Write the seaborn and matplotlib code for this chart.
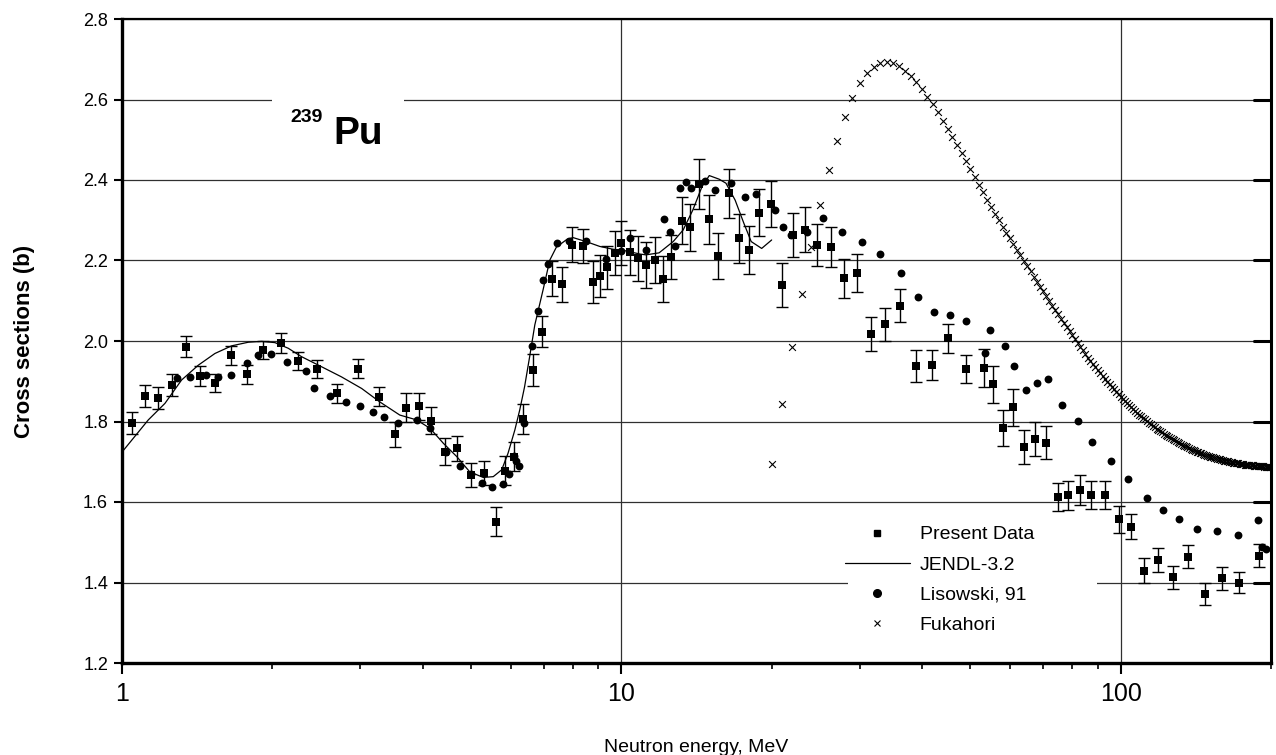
import matplotlib
matplotlib.use("Agg")
import matplotlib.pyplot as plt
from matplotlib.lines import Line2D
from matplotlib.patches import Rectangle
from matplotlib.ticker import LogLocator, NullFormatter, FixedLocator, FixedFormatter
import seaborn as sns
import pandas as pd

# ---------------- data ----------------
present_E = [1.048, 1.112, 1.182, 1.257, 1.341, 1.433, 1.535, 1.650, 1.776, 1.918,
             2.078, 2.255, 2.458, 2.70, 2.97, 3.27, 3.52, 3.71, 3.93, 4.16,
             4.43, 4.69, 4.99, 5.32, 5.61, 5.85, 6.10, 6.36, 6.64, 6.94,
             7.26, 7.62, 7.98, 8.38, 8.76, 9.07, 9.37, 9.73, 10.0, 10.4,
             10.8, 11.2, 11.7, 12.1, 12.6, 13.2, 13.7, 14.3, 14.95, 15.6,
             16.4, 17.2, 18.0, 18.9, 19.9, 21.0, 22.1, 23.3, 24.6, 26.3,
             27.9, 29.6, 31.6, 33.7, 36.2, 38.9, 41.9, 45.2, 49.0, 53.3,
             55.6, 58.2, 60.9, 64.1, 67.3, 71.0, 74.9, 78.3, 83.0, 87.3,
             92.9, 99.0, 104.7, 111.3, 118.9, 127.4, 136.5, 147.2, 159.3, 172.8,
             189.4]
present_y = [1.796, 1.863, 1.858, 1.890, 1.986, 1.913, 1.896, 1.964, 1.917, 1.978,
             1.995, 1.950, 1.930, 1.870, 1.931, 1.862, 1.768, 1.834, 1.838, 1.802,
             1.725, 1.733, 1.667, 1.673, 1.551, 1.678, 1.712, 1.806, 1.928, 2.023,
             2.155, 2.141, 2.239, 2.236, 2.147, 2.162, 2.183, 2.218, 2.243, 2.221,
             2.205, 2.188, 2.202, 2.154, 2.209, 2.299, 2.282, 2.390, 2.302, 2.211,
             2.367, 2.255, 2.226, 2.319, 2.340, 2.139, 2.263, 2.277, 2.239, 2.233,
             2.156, 2.168, 2.017, 2.041, 2.088, 1.938, 1.940, 2.007, 1.930, 1.932,
             1.892, 1.783, 1.835, 1.737, 1.756, 1.747, 1.613, 1.617, 1.630, 1.617,
             1.617, 1.557, 1.539, 1.429, 1.456, 1.413, 1.464, 1.371, 1.410, 1.400,
             1.467]
present_err = [0.027, 0.028, 0.027, 0.027, 0.026, 0.025, 0.023, 0.023, 0.023, 0.022,
               0.024, 0.023, 0.023, 0.023, 0.024, 0.024, 0.031, 0.036, 0.034, 0.033,
               0.033, 0.032, 0.030, 0.030, 0.036, 0.037, 0.036, 0.038, 0.039, 0.039,
               0.043, 0.043, 0.043, 0.043, 0.052, 0.052, 0.053, 0.055, 0.055, 0.056,
               0.056, 0.057, 0.057, 0.056, 0.054, 0.059, 0.059, 0.061, 0.060, 0.058,
               0.061, 0.060, 0.059, 0.059, 0.058, 0.055, 0.055, 0.055, 0.052, 0.050,
               0.048, 0.047, 0.043, 0.042, 0.042, 0.039, 0.037, 0.036, 0.035, 0.047,
               0.047, 0.045, 0.045, 0.042, 0.042, 0.041, 0.035, 0.036, 0.037, 0.035,
               0.035, 0.034, 0.032, 0.031, 0.030, 0.029, 0.029, 0.027, 0.029, 0.027,
               0.028]

lisowski_E = [1.287, 1.370, 1.470, 1.555, 1.650, 1.781, 1.869, 1.987, 2.141, 2.335,
              2.427, 2.614, 2.815, 2.995, 3.175, 3.34, 3.57, 3.90, 4.14, 4.46,
              4.75, 5.00, 5.25, 5.50, 5.80, 5.95, 6.10, 6.16, 6.24, 6.39,
              6.63, 6.81, 6.97, 7.14, 7.42, 7.87, 8.50, 9.30, 10.0, 10.4,
              11.2, 12.2, 12.5, 12.8, 13.1, 13.5, 13.8, 14.7, 15.4, 16.6,
              17.7, 18.6, 20.3, 21.1, 21.9, 23.5, 25.4, 27.7, 30.3, 32.9,
              36.3, 39.3, 42.3, 45.5, 49.1, 53.5, 54.7, 58.7, 61.2, 64.5,
              67.9, 71.6, 76.4, 82.2, 87.7, 95.8, 103.6, 112.8, 121.5, 131.0,
              142.1, 155.8, 171.5, 188.0, 192.0, 195.0]
lisowski_y = [1.907, 1.910, 1.916, 1.910, 1.916, 1.945, 1.965, 1.968, 1.947, 1.926,
              1.884, 1.864, 1.848, 1.839, 1.824, 1.810, 1.797, 1.804, 1.783, 1.725,
              1.690, 1.670, 1.648, 1.638, 1.644, 1.670, 1.714, 1.703, 1.689, 1.796,
              1.988, 2.075, 2.152, 2.191, 2.244, 2.248, 2.248, 2.203, 2.223, 2.256,
              2.226, 2.302, 2.272, 2.236, 2.381, 2.395, 2.380, 2.397, 2.374, 2.393,
              2.359, 2.366, 2.325, 2.284, 2.263, 2.272, 2.305, 2.272, 2.245, 2.216,
              2.169, 2.109, 2.071, 2.065, 2.049, 1.969, 2.027, 1.988, 1.939, 1.878,
              1.896, 1.906, 1.841, 1.802, 1.748, 1.701, 1.657, 1.611, 1.580, 1.557,
              1.534, 1.529, 1.517, 1.555, 1.487, 1.482]

jendl_E = [1.0, 1.129, 1.219, 1.316, 1.422, 1.535, 1.658, 1.791, 1.905, 2.024,
           2.152, 2.289, 2.51, 2.75, 3.02, 3.28, 3.60, 3.89, 4.14, 4.40,
           4.68, 4.97, 5.29, 5.54, 5.76, 5.93, 6.12, 6.26, 6.40, 6.55,
           6.71, 6.97, 7.19, 7.41, 7.77, 8.00, 8.50, 9.05, 9.62, 10.2,
           10.9, 11.2, 11.9, 12.7, 13.3, 13.9, 14.5, 15.0, 15.7, 16.2,
           16.9, 17.6, 18.2, 19.1, 20.0]
jendl_y = [1.724, 1.804, 1.845, 1.903, 1.940, 1.969, 1.988, 1.997, 1.999, 1.996,
           1.982, 1.961, 1.936, 1.911, 1.882, 1.849, 1.816, 1.804, 1.783, 1.746,
           1.713, 1.675, 1.661, 1.663, 1.680, 1.721, 1.779, 1.829, 1.886, 1.960,
           2.040, 2.127, 2.201, 2.233, 2.252, 2.257, 2.247, 2.235, 2.228, 2.224,
           2.216, 2.214, 2.219, 2.247, 2.276, 2.325, 2.383, 2.411, 2.402, 2.392,
           2.350, 2.292, 2.247, 2.230, 2.251]

fukahori_E = list(range(20, 201))
fukahori_y = [1.694, 1.843, 1.986, 2.116, 2.234, 2.337, 2.425, 2.498, 2.557, 2.604,
              2.640, 2.665, 2.681, 2.691, 2.694, 2.690, 2.682, 2.671, 2.658, 2.643,
              2.626, 2.607, 2.588, 2.568, 2.547, 2.527, 2.506, 2.486, 2.466, 2.446,
              2.427, 2.407, 2.388, 2.369, 2.351, 2.333, 2.316, 2.300, 2.284, 2.269,
              2.255, 2.241, 2.227, 2.213, 2.199, 2.186, 2.173, 2.160, 2.147, 2.135,
              2.123,
              2.111, 2.099, 2.088, 2.077, 2.066, 2.055, 2.044, 2.034, 2.024, 2.014,
              2.004,
              1.995, 1.986, 1.977, 1.968, 1.959, 1.951, 1.943, 1.935, 1.927, 1.920,
              1.913, 1.906, 1.899, 1.892, 1.886, 1.880, 1.874, 1.868, 1.862,
              1.857, 1.851, 1.846, 1.841, 1.836, 1.831, 1.826, 1.822, 1.817, 1.813,
              1.809, 1.805, 1.801, 1.797, 1.793, 1.789, 1.786, 1.782, 1.779, 1.776,
              1.773, 1.770, 1.767, 1.764, 1.761, 1.758, 1.756, 1.753, 1.751, 1.748,
              1.746, 1.744, 1.742, 1.740, 1.738, 1.736, 1.734, 1.732, 1.730, 1.728,
              1.727, 1.725, 1.724, 1.722, 1.721, 1.719, 1.718, 1.717, 1.715, 1.714,
              1.713, 1.712, 1.711, 1.710, 1.709, 1.708, 1.707, 1.706, 1.705, 1.704,
              1.703, 1.702, 1.702, 1.701, 1.700, 1.699, 1.699, 1.698, 1.697, 1.697,
              1.696, 1.696, 1.695, 1.695, 1.694, 1.694, 1.693, 1.693, 1.692, 1.692,
              1.692, 1.691, 1.691, 1.691, 1.690, 1.690, 1.690, 1.690, 1.689, 1.689,
              1.689, 1.689, 1.689, 1.688, 1.688, 1.688, 1.688, 1.688, 1.688, 1.688]

y_ticks = [1.2, 1.4, 1.6, 1.8, 2.0, 2.2, 2.4, 2.6, 2.8]
x_ticks = [1, 10, 100]
x_ticklabels = ["1", "10", "100"]
legend_labels = ["Present Data", "JENDL-3.2", "Lisowski, 91", "Fukahori"]

# ---------------- styling ----------------
sns.set_style("white")
plt.rcParams["font.family"] = ["Liberation Sans", "DejaVu Sans"]
plt.rcParams["text.color"] = "black"
plt.rcParams["axes.labelcolor"] = "black"
plt.rcParams["xtick.color"] = "black"
plt.rcParams["ytick.color"] = "black"

fig = plt.figure(figsize=(12.76, 7.55), dpi=100)
ax = fig.add_axes([122 / 1276, 92 / 755, 1149 / 1276, 644 / 755])

df_present = pd.DataFrame({"E": present_E, "y": present_y, "err": present_err})
df_lis = pd.DataFrame({"E": lisowski_E, "y": lisowski_y})
df_jendl = pd.DataFrame({"E": jendl_E, "y": jendl_y})
df_fuk = pd.DataFrame({"E": fukahori_E, "y": fukahori_y})

ax.set_xscale("log")

# error bars
ax.errorbar(df_present["E"], df_present["y"], yerr=df_present["err"], fmt="none",
            ecolor="black", elinewidth=1.0, capsize=4.5, capthick=1.0, zorder=3)

sns.lineplot(data=df_jendl, x="E", y="y", ax=ax, color="black", linewidth=0.9,
             sort=False, estimator=None, zorder=3)
sns.scatterplot(data=df_fuk, x="E", y="y", ax=ax, marker="x", color="black",
                s=24, linewidth=0.8, zorder=4)
sns.scatterplot(data=df_lis, x="E", y="y", ax=ax, marker="o", color="black",
                s=32, edgecolor="black", linewidth=0, zorder=4)
sns.scatterplot(data=df_present, x="E", y="y", ax=ax, marker="s", color="black",
                s=26, edgecolor="black", linewidth=0, zorder=5)

ax.set_xlim(1, 200)
ax.set_ylim(1.2, 2.8)

# grid
ax.set_axisbelow(True)
ax.grid(True, which="major", axis="both", color="#303030", linewidth=0.9)

# ticks
ax.xaxis.set_major_locator(FixedLocator(x_ticks))
ax.xaxis.set_major_formatter(FixedFormatter(x_ticklabels))
ax.xaxis.set_minor_locator(LogLocator(base=10, subs=range(2, 10), numticks=20))
ax.xaxis.set_minor_formatter(NullFormatter())
ax.set_yticks(y_ticks)
ax.set_yticklabels([f"{v:.1f}" for v in y_ticks])

ax.tick_params(axis="x", which="major", direction="out", length=8, width=1.5,
               bottom=True, top=False, labelsize=18, pad=6, colors="black")
ax.tick_params(axis="x", which="minor", direction="out", length=4.5, width=1.2,
               bottom=True, top=False, colors="black")
ax.tick_params(axis="y", which="major", direction="out", length=6, width=1.5,
               left=True, right=False, labelsize=13, pad=4, colors="black")

# right-side inward ticks
for yv in y_ticks[1:-1]:
    ax.plot([0.985, 1.0], [yv, yv], transform=ax.get_yaxis_transform(),
            color="black", linewidth=2.2, clip_on=False, zorder=6)

for side, lw in [("left", 2.4), ("bottom", 2.4), ("right", 2.2), ("top", 1.6)]:
    ax.spines[side].set_visible(True)
    ax.spines[side].set_linewidth(lw)
    ax.spines[side].set_color("black")

ax.set_xlabel("Neutron energy, MeV", fontsize=14, color="black")
ax.xaxis.set_label_coords(0.5, -0.118)
ax.set_ylabel("Cross sections (b)", fontsize=16, fontweight="bold", color="black")
ax.yaxis.set_label_coords(-0.076, 0.5)

# isotope label with white backing over the grid line
ax.add_patch(Rectangle((0.1305, 0.775), 0.115, 0.11, transform=ax.transAxes,
                       facecolor="white", edgecolor="none", zorder=2))
ax.text(0.1462, 0.840, "239", transform=ax.transAxes, fontsize=14,
        fontweight="bold", va="baseline", ha="left", zorder=6, color="black")
ax.text(0.1836, 0.806, "Pu", transform=ax.transAxes, fontsize=28,
        fontweight="bold", va="baseline", ha="left", zorder=6, color="black")

# legend with a white backing that interrupts the grid line
ax.add_patch(Rectangle((0.6319, 0.036), 0.2167, 0.202, transform=ax.transAxes,
                       facecolor="white", edgecolor="none", zorder=2))
handles = [
    Line2D([], [], marker="s", linestyle="", color="black", markersize=5),
    Line2D([], [], color="black", linewidth=0.9),
    Line2D([], [], marker="o", linestyle="", color="black", markersize=5.5),
    Line2D([], [], marker="x", linestyle="", color="black", markersize=4.5,
           markeredgewidth=0.8),
]
leg = ax.legend(handles, legend_labels, loc="upper left",
                bbox_to_anchor=(0.6258, 0.219), frameon=False,
                fontsize=14, handlelength=3.34, handletextpad=0.51,
                labelspacing=0.64, borderpad=0.2, borderaxespad=0.0,
                labelcolor="black")
leg.set_zorder(7)

fig.savefig("out.png", dpi=100)
